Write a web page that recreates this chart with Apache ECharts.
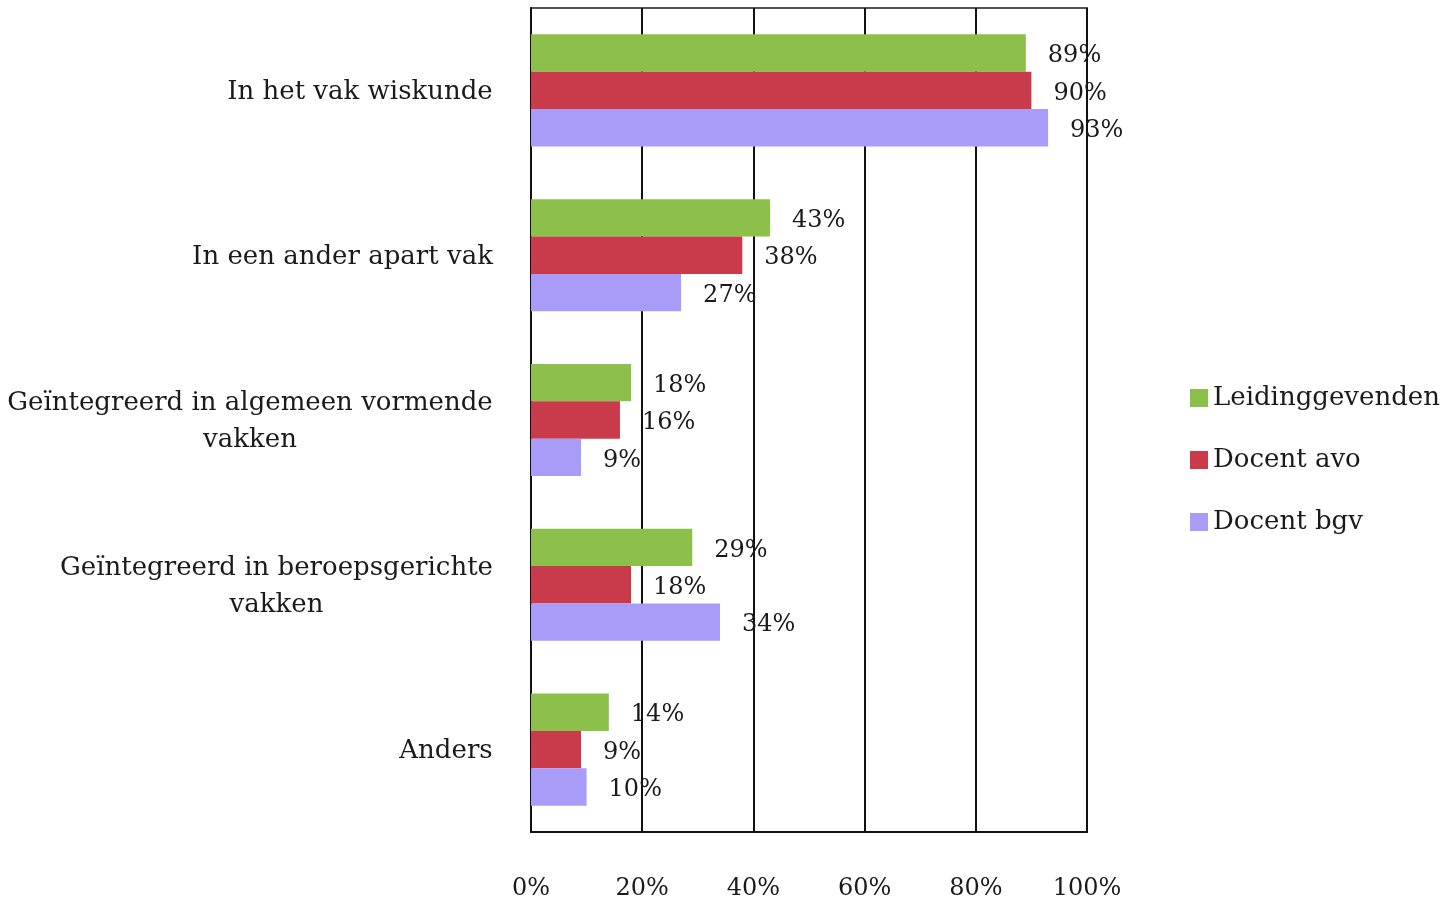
<!DOCTYPE html>
<html><head><meta charset="utf-8">
<script src="https://cdn.jsdelivr.net/npm/echarts@6/dist/echarts.min.js"></script>
<style>html,body{margin:0;padding:0;background:#fff}#c{width:1445px;height:904px}</style>
</head><body><div id="c"></div>
<script>
const categories = ['In het vak wiskunde', 'In een ander apart vak', 'Geïntegreerd in algemeen vormende\nvakken', 'Geïntegreerd in beroepsgerichte\nvakken', 'Anders'];
const seriesNames = ['Leidinggevenden', 'Docent avo', 'Docent bgv'];
const leidinggevenden = [89, 43, 18, 29, 14];
const docentAvo = [90, 38, 16, 18, 9];
const docentBgv = [93, 27, 9, 34, 10];
const xTicks = [0, 20, 40, 60, 80, 100];
const colors = ['#8dc04b', '#c93a4a', '#a99cf8'];

const FONT = '"DejaVu Serif", serif';
const catSize = 26;
const cv = document.createElement('canvas').getContext('2d');
cv.font = catSize + 'px ' + FONT;
const rich = {};
categories.forEach((c, i) => {
  const lines = c.split('\n');
  const w = Math.max(...lines.map(l => cv.measureText(l).width));
  rich['l' + i] = {width: Math.ceil(w) + 2, align: 'center', fontSize: catSize, fontFamily: FONT, color: '#1a1a1a', lineHeight: 37};
});

const chart = echarts.init(document.getElementById('c'));
const mk = (name, data, i) => ({
  name, type: 'bar', data, barGap: '0%', barCategoryGap: '32%',
  itemStyle: {color: colors[i]},
  label: {show: true, position: 'right', distance: 22, offset: [0, 3], formatter: '{c}%', fontSize: 24, fontFamily: FONT, color: '#1a1a1a'}
});
chart.setOption({
  animation: false,
  grid: {left: 531, right: 358, top: 8, bottom: 72, show: true, borderColor: '#555', borderWidth: 2},
  legend: {
    orient: 'vertical', left: 1185, top: 380, itemGap: 36, itemWidth: 18, itemHeight: 18, icon: 'rect',
    textStyle: {fontSize: 26, fontFamily: FONT, color: '#1a1a1a'},
    data: seriesNames
  },
  xAxis: {
    type: 'value', min: 0, max: 100, interval: 20,
    axisLabel: {formatter: v => xTicks.includes(v) ? v + '%' : '', margin: 45, fontSize: 24, fontFamily: FONT, color: '#1a1a1a'},
    axisLine: {show: true, lineStyle: {color: '#111', width: 2}},
    axisTick: {show: false},
    splitLine: {show: true, lineStyle: {color: '#111', width: 2}}
  },
  yAxis: {
    type: 'category', data: categories, inverse: true,
    axisLine: {show: true, lineStyle: {color: '#111', width: 2}},
    axisTick: {show: false},
    axisLabel: {margin: 37, padding: [4, 0, 0, 0], formatter: (v, i) => v.split('\n').map(l => '{l' + i + '|' + l + '}').join('\n'), rich}
  },
  series: [mk(seriesNames[0], leidinggevenden, 0), mk(seriesNames[1], docentAvo, 1), mk(seriesNames[2], docentBgv, 2)]
});
</script></body></html>
